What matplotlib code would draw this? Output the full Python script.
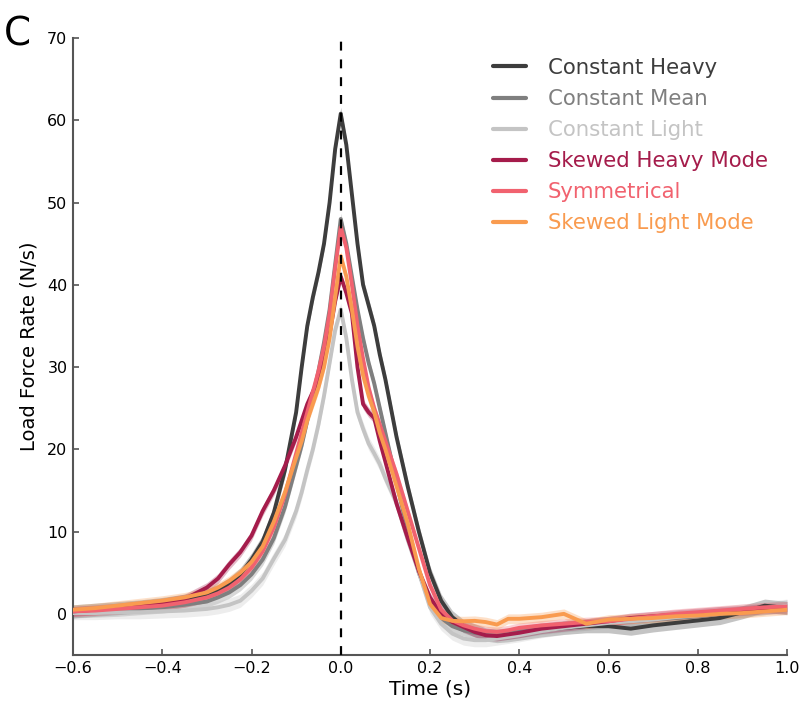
import matplotlib
matplotlib.use("Agg")
import matplotlib.pyplot as plt
import numpy as np

time_s = [-0.6, -0.55, -0.5, -0.45, -0.4, -0.35, -0.3, -0.275, -0.25, -0.225, -0.2,
          -0.175, -0.15, -0.125, -0.1, -0.0875, -0.075, -0.0625, -0.05, -0.0375, -0.025,
          -0.0125, 0.0, 0.0125, 0.025, 0.0375, 0.05, 0.0625, 0.075, 0.0875, 0.1,
          0.125, 0.15, 0.175, 0.2, 0.225, 0.25, 0.275, 0.3, 0.325, 0.35, 0.375, 0.4,
          0.45, 0.5, 0.55, 0.6, 0.65, 0.7, 0.75, 0.8, 0.85, 0.9, 0.95, 1.0]

constant_heavy = [0.3, 0.5, 0.7, 0.9, 1.2, 1.6, 2.2, 2.8, 3.6, 4.8, 6.6,
                  8.8, 12.3, 17.5, 24.5, 30.0, 35.0, 38.5, 41.5, 45.0, 50.0,
                  56.5, 60.8, 57.0, 51.0, 45.0, 40.0, 37.5, 35.0, 31.5, 28.5,
                  21.5, 15.5, 10.0, 5.0, 1.6, -0.4, -1.5, -2.0, -2.5, -2.7, -2.6, -2.4,
                  -2.0, -1.7, -1.5, -1.5, -1.8, -1.4, -1.1, -0.8, -0.5, 0.2, 1.0, 0.7]
constant_mean = [0.2, 0.3, 0.4, 0.6, 0.8, 1.1, 1.5, 2.0, 2.6, 3.5, 4.8,
                 6.6, 9.2, 13.0, 18.0, 20.5, 23.5, 26.5, 29.5, 33.0, 37.0,
                 42.5, 48.0, 45.0, 41.0, 37.0, 33.5, 30.5, 28.0, 25.0, 22.0,
                 16.0, 10.0, 5.0, 1.5, -0.5, -1.5, -2.0, -2.3, -2.5, -2.5, -2.4, -2.2,
                 -1.8, -1.5, -1.3, -1.0, -0.9, -0.7, -0.5, -0.3, 0.0, 0.3, 0.6, 1.0]
constant_light = [0.1, 0.1, 0.2, 0.2, 0.3, 0.4, 0.6, 0.8, 1.1, 1.6, 2.8,
                  4.3, 6.7, 9.0, 12.5, 14.8, 17.5, 20.0, 23.0, 26.5, 30.5,
                  34.5, 37.0, 33.5, 28.5, 24.5, 22.5, 20.7, 19.5, 18.2, 16.5,
                  13.5, 9.0, 5.0, 0.8, -1.2, -2.4, -3.0, -3.2, -3.2, -3.0, -2.8, -2.6,
                  -2.1, -1.7, -1.4, -1.1, -0.9, -0.7, -0.4, -0.2, 0.1, 0.4, 0.7, 1.0]
skewed_heavy = [0.3, 0.5, 0.7, 1.0, 1.3, 1.8, 3.2, 4.3, 6.0, 7.5, 9.5,
                12.5, 15.0, 18.0, 21.5, 23.5, 25.5, 27.0, 28.5, 31.0, 34.0,
                38.0, 41.0, 39.0, 36.5, 30.0, 25.5, 24.5, 23.8, 21.0, 18.5,
                13.4, 9.2, 5.2, 2.0, 0.0, -1.0, -1.6, -2.2, -2.6, -2.7, -2.5, -2.3,
                -1.8, -1.5, -1.2, -0.9, -0.5, -0.3, -0.1, 0.1, 0.3, 0.4, 0.6, 0.6]
symmetrical = [0.3, 0.4, 0.6, 0.8, 1.0, 1.4, 2.0, 2.5, 3.2, 4.2, 5.6,
               7.6, 10.5, 14.5, 19.5, 22.0, 24.5, 27.0, 29.5, 32.5, 36.5,
               42.0, 47.0, 44.5, 40.0, 35.0, 31.0, 27.5, 25.0, 23.0, 21.0,
               17.0, 12.5, 8.0, 3.5, 0.5, -0.8, -1.4, -1.8, -2.1, -2.2, -2.0, -1.7,
               -1.4, -1.2, -1.0, -0.9, -0.6, -0.3, 0.0, 0.2, 0.4, 0.6, 0.8, 0.9]
skewed_light = [0.5, 0.7, 1.0, 1.3, 1.6, 2.0, 2.6, 3.2, 4.0, 5.0, 6.3,
                8.2, 11.2, 14.8, 19.0, 21.0, 23.5, 25.5, 27.5, 30.0, 33.5,
                38.5, 43.5, 41.0, 37.0, 32.5, 29.0, 26.5, 24.5, 22.0, 20.0,
                15.5, 11.0, 5.5, 1.2, -0.5, -0.85, -0.9, -0.85, -1.0, -1.3, -0.6, -0.6,
                -0.4, 0.0, -1.2, -0.7, -0.6, -0.5, -0.3, -0.2, 0.0, 0.1, 0.3, 0.5]

labels = ["Constant Heavy", "Constant Mean", "Constant Light",
          "Skewed Heavy Mode", "Symmetrical", "Skewed Light Mode"]
series = [constant_heavy, constant_mean, constant_light, skewed_heavy, symmetrical, skewed_light]
errors = [0.8, 0.7, 0.8, 0.6, 0.6, 0.6]
colors = ["#3d3d3d", "#7f7f7f", "#c4c4c4", "#a51c4b", "#f1626f", "#f99b4f"]

fig = plt.figure(figsize=(8.04, 7.09), dpi=100)
ax = fig.add_axes([73 / 804, 1 - 655 / 709, 714 / 804, (655 - 38) / 709])

t = np.array(time_s)
for y, e, c, lab in zip(series, errors, colors, labels):
    y = np.array(y)
    ax.fill_between(t, y - e, y + e, color=c, alpha=0.3, lw=0, zorder=2)
    ax.plot(t, y, color=c, lw=2.8, label=lab, zorder=3,
            solid_capstyle="round", solid_joinstyle="round")

ax.axvline(0, color="black", ls=(0, (4, 4)), lw=1.6, zorder=4)

ax.set_xlim(-0.6, 1.0)
ax.set_ylim(-5, 70)
ax.set_xticks([-0.6, -0.4, -0.2, 0.0, 0.2, 0.4, 0.6, 0.8, 1.0])
ax.set_yticks([0, 10, 20, 30, 40, 50, 60, 70])
ax.tick_params(direction="in", length=4, width=1.2, labelsize=11.5, color="#555555",
               top=False, right=False, pad=4)
for s in ["top", "right"]:
    ax.spines[s].set_visible(False)
for s in ["left", "bottom"]:
    ax.spines[s].set_color("#555555")
    ax.spines[s].set_linewidth(1.5)

ax.set_xlabel("Time (s)", fontsize=14.5, labelpad=3)
ax.set_ylabel("Load Force Rate (N/s)", fontsize=14, labelpad=6)

leg = ax.legend(loc="upper left", bbox_to_anchor=(0.5766, 0.9815), frameon=False,
                fontsize=15.3, handlelength=1.55, handletextpad=1.03, labelspacing=0.52,
                borderaxespad=0)
for txt, c in zip(leg.get_texts(), colors):
    txt.set_color(c)
for ln in leg.get_lines():
    ln.set_linewidth(3)

fig.text(0.005, 0.978, "C", fontsize=28, va="top", ha="left")

fig.savefig("out.png", dpi=100)
